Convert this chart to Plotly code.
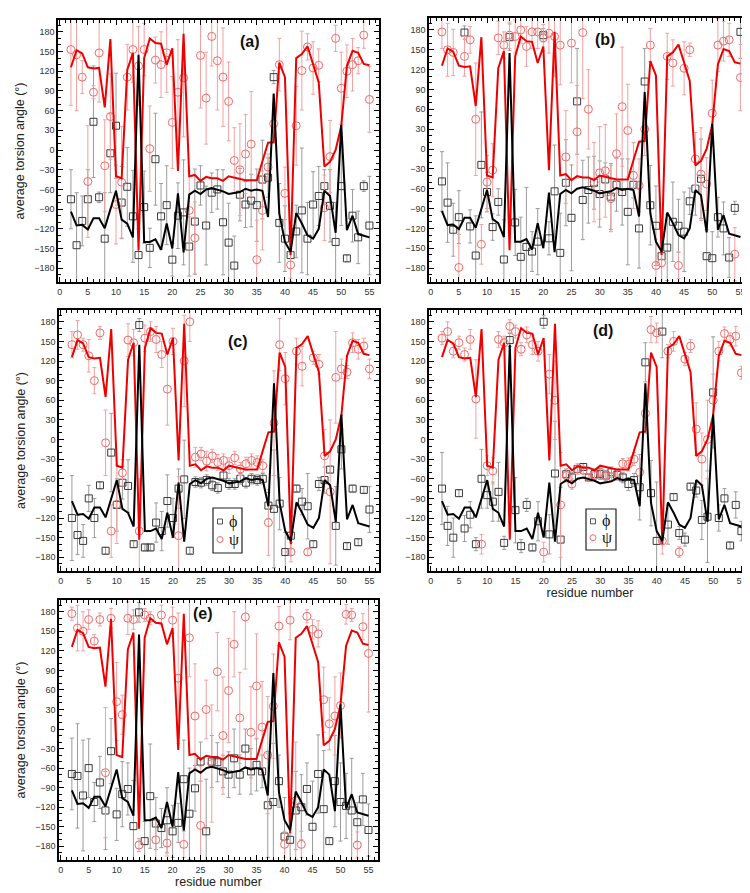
import plotly.graph_objects as go

residues = list(range(2, 56))

# reference (line) torsion angles
phi_ref = [-94, -115, -114, -121, -104, -104, -119, -90, -62, -106,
           -112, -133, 145, -140, -140, -136, -152, -112, -150, -66,
           -156, -68, -62, -67, -60, -58, -60, -63, -67, -65,
           -64, -59, -62, -60, -62, -102, 86, -97, -140, -155,
           -96, -112, -130, -135, -120, -62, -70, -126, 38, -122,
           -100, -128, -131, -133]
psi_ref = [126, 152, 147, 126, 124, 125, 65, 169, -40, -43,
           122, 148, -153, 140, 170, 163, 162, 130, 155, -32,
           177, -40, -38, -47, -41, -43, -43, -47, -40, -42,
           -43, -46, -46, -46, -17, 11, 12, 133, 111, -160,
           140, 146, 158, 130, 103, -25, -18, 0, 37, 128,
           151, 148, 131, 129]

# panel (a)
phi_a = [-75, -145, -108, -75, 43, -72, -135, -5, 37, -80,
         -56, -101, -160, -87, -149, -14, -101, -84, -167, -100,
         -95, -147, -109, -54, -115, -65, -60, -110, -141, -176,
         -68, -83, -77, -84, -45, -42, 111, -111, -135, -160,
         -124, -92, -135, -83, -70, -55, -85, -140, -55, -165,
         -100, -133, -55, -115]
phi_err_a = [45, 80, 38, 45, 85, 8, 70, 60, 80, 55,
             60, 70, 40, 55, 30, 70, 50, 60, 25, 50,
             80, 45, 80, 30, 60, 30, 30, 80, 60, 45,
             40, 35, 40, 55, 60, 30, 10, 60, 50, 40,
             40, 95, 55, 50, 45, 25, 55, 60, 60, 5,
             40, 40, 8, 75]
psi_a = [153, 145, 111, -48, 88, 148, -24, 51, -83, -49,
         111, 153, 128, 153, 2, 137, 130, 148, 42, 88,
         110, -92, -134, 144, 79, 173, 136, 111, 74, -16,
         -30, -6, 9, -167, -92, -26, 40, 130, -66, -175,
         37, 121, 157, 125, 129, -88, -10, 170, 94, 120,
         130, 136, 175, 77]
psi_err_a = [85, 85, 25, 85, 10, 75, 70, 65, 60, 85,
             50, 50, 60, 40, 65, 35, 50, 60, 70, 80,
             90, 60, 55, 80, 70, 45, 75, 75, 60, 50,
             70, 60, 80, 60, 60, 20, 30, 40, 40, 20,
             60, 60, 20, 40, 25, 50, 55, 20, 55, 40,
             40, 20, 20, 50]

# panel (b)
phi_b = [-49, -81, -122, -103, 176, -117, -161, -24, -65, -118,
         -80, -167, 169, -111, -163, -148, -155, -140, 172, -135,
         -64, -157, -51, -104, 72, -77, -62, -51, -68, -46,
         -72, -54, -65, -95, -54, -120, 102, -85, -116, -162,
         -149, -110, -116, -125, -79, -60, -45, -162, -165, -103,
         -120, -164, -89, 177]
phi_err_b = [45, 60, 40, 40, 10, 25, 60, 80, 30, 20,
             20, 60, 20, 50, 60, 90, 30, 50, 10, 25,
             70, 60, 65, 80, 80, 60, 50, 40, 50, 25,
             50, 40, 50, 80, 20, 60, 50, 60, 60, 40,
             50, 60, 40, 60, 20, 40, 60, 40, 40, 30,
             40, 30, 10, 40]
psi_b = [177, 150, 146, -179, 140, 165, 45, -144, -50, -32,
         168, 157, 172, 170, 180, 155, 177, 177, 168, 175,
         170, 157, -12, 160, 26, 176, 60, -50, -36, -33,
         -75, -7, 64, 28, -40, -55, 30, 157, -176, -172,
         140, 130, -176, 122, 150, -15, -38, -53, 54, 157,
         163, 165, -159, 108]
psi_err_b = [25, 40, 35, 50, 30, 20, 85, 30, 40, 40,
             25, 20, 20, 25, 20, 30, 25, 25, 20, 30,
             60, 60, 70, 60, 70, 100, 60, 60, 70, 70,
             50, 60, 90, 70, 50, 40, 40, 25, 40, 30,
             35, 35, 20, 40, 10, 40, 70, 40, 50, 40,
             30, 25, 40, 50]

# panel (c)
phi_c = [-120, -146, -155, -90, -120, -70, -170, -20, -100, -66,
         -71, -160, 175, -165, -165, -127, -140, -94, -120, -75,
         -61, -170, -65, -66, -62, -70, -74, -55, -68, -68,
         -60, -66, -60, -62, -60, -101, -106, -98, -172, -147,
         -75, -95, -102, -160, -68, -62, -46, -132, -15, -163,
         -75, -157, -77, -107]
phi_err_c = [65, 30, 25, 20, 30, 5, 5, 60, 40, 25,
             40, 5, 10, 5, 5, 30, 30, 40, 30, 30,
             60, 5, 8, 8, 8, 8, 8, 8, 8, 8,
             8, 8, 8, 8, 8, 20, 90, 40, 30, 30,
             5, 20, 50, 5, 10, 20, 5, 60, 30, 5,
             5, 5, 5, 35]
psi_c = [145, 160, 145, 128, 90, 163, -5, -140, -99, -51,
         152, 148, -140, 155, 165, 153, 130, 77, 150, -147,
         120, 180, -27, -22, -33, -25, -35, -32, -40, -28,
         -45, -37, -32, -35, -40, -127, 25, 145, 93, -172,
         135, 112, -172, 125, 115, -25, -80, 95, 108, 103,
         148, 138, 143, 108]
psi_err_c = [20, 22, 10, 25, 20, 10, 50, 40, 60, 20,
             25, 20, 80, 20, 15, 20, 20, 55, 20, 90,
             70, 30, 15, 10, 15, 10, 12, 10, 12, 10,
             10, 10, 10, 10, 10, 50, 80, 40, 40, 15,
             20, 30, 5, 10, 15, 40, 110, 70, 15, 10,
             15, 15, 12, 15]

# panel (d)
phi_d = [-75, -132, -150, -82, -136, -115, -160, -60, -85, -95,
         -80, -158, 152, -108, -163, -100, -165, -125, 180, -145,
         -52, -153, -53, -58, -45, -42, -58, -53, -53, -55,
         -50, -54, -58, -68, -62, -73, 118, -82, -155, 165,
         -130, -88, -143, -153, -72, -78, -123, -118, 72, -120,
         -90, -162, -100, -140]
phi_err_d = [55, 30, 30, 5, 20, 20, 10, 45, 20, 30,
             45, 10, 10, 50, 10, 10, 5, 30, 10, 30,
             80, 80, 8, 8, 5, 5, 5, 8, 8, 8,
             8, 8, 8, 10, 10, 50, 30, 50, 90, 40,
             30, 5, 10, 10, 5, 10, 30, 70, 85, 20,
             15, 5, 20, 15]
psi_d = [155, 165, 135, 148, 130, 153, 62, -160, -40, -48,
         153, 148, 173, 165, 138, 160, 145, 135, -172, 100,
         60, -100, -55, -68, -45, -47, -58, -55, -50, -55,
         -57, -52, -37, -38, -30, -50, 40, 168, 163, -155,
         135, 150, -172, 123, 143, 16, -30, 0, 60, 135,
         162, 153, 158, 102]
psi_err_d = [10, 15, 10, 10, 10, 15, 60, 15, 15, 20,
             12, 10, 10, 10, 10, 12, 15, 15, 15, 30,
             60, 80, 10, 8, 8, 6, 6, 6, 6, 6,
             6, 8, 8, 10, 10, 20, 30, 20, 15, 20,
             10, 15, 8, 10, 10, 40, 40, 60, 40, 15,
             10, 10, 15, 10]

# panel (e)
phi_e = [-69, -72, -102, -60, -112, -82, -125, -34, -131, -100,
         -92, -149, 179, -172, -103, -145, -152, -140, -157, -144,
         -77, -130, -91, -50, -157, -50, -51, -65, -70, -45,
         -70, -30, -65, -55, -65, -117, -112, -80, -165, -170,
         -125, -120, -92, -150, -69, -123, -172, -80, -112, -118,
         -125, -143, -108, -155]
phi_err_e = [55, 80, 85, 45, 30, 40, 60, 50, 40, 50,
             40, 70, 15, 30, 80, 40, 30, 50, 40, 30,
             60, 70, 35, 30, 80, 40, 30, 25, 35, 45,
             30, 30, 35, 40, 25, 80, 90, 40, 60, 40,
             60, 50, 40, 70, 60, 90, 5, 70, 60, 50,
             80, 30, 40, 40]
psi_e = [177, 155, 150, 168, 135, 168, -67, 170, 42, 22,
         170, 168, -178, 175, 170, -170, 175, -175, 167, 78,
         -177, 140, 20, -148, 30, -53, 88, -10, 59, 130,
         17, 172, -5, 66, 3, -40, 35, 158, -177, 167,
         -110, -177, 173, 153, 146, 45, 8, 20, 36, 176,
         175, -178, 157, 116]
psi_err_e = [10, 35, 30, 15, 10, 10, 100, 15, 60, 30,
             25, 15, 10, 10, 10, 30, 15, 20, 20, 100,
             20, 60, 80, 90, 45, 90, 60, 90, 80, 50,
             70, 80, 70, 80, 70, 90, 80, 30, 20, 30,
             90, 20, 10, 15, 20, 50, 40, 60, 50, 15,
             10, 20, 20, 90]

panels = [
    ("(a)", phi_a, phi_err_a, psi_a, psi_err_a),
    ("(b)", phi_b, phi_err_b, psi_b, psi_err_b),
    ("(c)", phi_c, phi_err_c, psi_c, psi_err_c),
    ("(d)", phi_d, phi_err_d, psi_d, psi_err_d),
    ("(e)", phi_e, phi_err_e, psi_e, psi_err_e),
]

y_ticks = list(range(-180, 181, 30))
x_ticks = list(range(0, 56, 5))

W, H = 750, 893
# plot frames in pixels: (left, right, top, bottom)
frames = [(50, 371, 12, 274), (421, 742, 10, 274),
          (51, 371, 302, 563), (421, 743, 302, 563),
          (51, 370, 592, 852)]
label_pos = [(242, 33), (597, 32), (230, 333), (595, 323), (195, 605)]

def px(x):
    return x / W

def py(y):
    return 1 - y / H

fig = go.Figure()
FONT = "Liberation Sans, Arial, sans-serif"

for i, (lab, ph, phe, ps, pse) in enumerate(panels):
    n = i + 1
    xa = "x" if n == 1 else f"x{n}"
    ya = "y" if n == 1 else f"y{n}"
    fig.add_trace(go.Scatter(
        x=residues, y=ph, mode="markers", xaxis=xa, yaxis=ya,
        marker=dict(symbol="square-open", size=7, color="#3a3a3a", line=dict(width=1)),
        error_y=dict(type="data", array=phe, color="#9c9c9c", thickness=1, width=2),
        showlegend=False))
    fig.add_trace(go.Scatter(
        x=residues, y=ps, mode="markers", xaxis=xa, yaxis=ya,
        marker=dict(symbol="circle-open", size=8, color="#f06a6a", line=dict(width=1)),
        error_y=dict(type="data", array=pse, color="#f4a0a0", thickness=1, width=2),
        showlegend=False))
    fig.add_trace(go.Scatter(
        x=residues, y=psi_ref, mode="lines", xaxis=xa, yaxis=ya,
        line=dict(color="#ee0000", width=2), showlegend=False))
    fig.add_trace(go.Scatter(
        x=residues, y=phi_ref, mode="lines", xaxis=xa, yaxis=ya,
        line=dict(color="#000000", width=2), showlegend=False))

    l, r, t, b = frames[i]
    common = dict(showline=True, linecolor="#000", linewidth=1.5, mirror="allticks",
                  ticks="inside", ticklen=5, tickwidth=1, tickcolor="#000",
                  showgrid=False, zeroline=False,
                  tickfont=dict(family=FONT, size=9, color="#333"))
    xkey = "xaxis" if n == 1 else f"xaxis{n}"
    ykey = "yaxis" if n == 1 else f"yaxis{n}"
    xtitle = "residue number" if lab in ("(d)", "(e)") else None
    ytitle = "average torsion angle (°)" if lab in ("(a)", "(c)", "(e)") else None
    fig.layout[xkey] = dict(domain=[px(l), px(r)], anchor=ya, range=[-0.3, 56.7],
                            tickvals=x_ticks,
                            minor=dict(dtick=1, tick0=0, ticks="inside", ticklen=3, tickcolor="#000", showgrid=False),
                            title=dict(text=xtitle, font=dict(family=FONT, size=12.5, color="#222"), standoff=1),
                            **common)
    fig.layout[ykey] = dict(domain=[py(b), py(t)], anchor=xa, range=[-201, 198],
                            tickvals=y_ticks,
                            minor=dict(dtick=10, tick0=0, ticks="inside", ticklen=3, tickcolor="#000", showgrid=False),
                            title=dict(text=ytitle, font=dict(family=FONT, size=12.5, color="#222"), standoff=7),
                            **common)
    lx, ly = label_pos[i]
    fig.add_annotation(x=px(lx), y=py(ly), xref="paper", yref="paper", text=f"<b>{lab}</b>",
                       showarrow=False, font=dict(family=FONT, size=16, color="#111"),
                       xanchor="center", yanchor="middle")

# legend boxes in panels (c) and (d)
for (bx0, by0, bx1, by1) in [(205, 500, 234, 545), (578, 501, 608, 542)]:
    fig.add_shape(type="rect", xref="paper", yref="paper", layer="above",
                  x0=px(bx0), x1=px(bx1), y0=py(by1), y1=py(by0),
                  line=dict(color="#222", width=1.2), fillcolor="rgba(255,255,255,0)")
    cy1 = by0 + (by1 - by0) * 0.3
    cy2 = by0 + (by1 - by0) * 0.7
    mx = bx0 + 7
    fig.add_shape(type="rect", xref="paper", yref="paper", layer="above",
                  x0=px(mx - 2.5), x1=px(mx + 2.5), y0=py(cy1 + 2.5), y1=py(cy1 - 2.5),
                  line=dict(color="#555", width=1))
    fig.add_shape(type="circle", xref="paper", yref="paper", layer="above",
                  x0=px(mx - 3), x1=px(mx + 3), y0=py(cy2 + 3), y1=py(cy2 - 3),
                  line=dict(color="#f06a6a", width=1))
    fig.add_annotation(x=px(mx + 7), y=py(cy1), xref="paper", yref="paper", text="ϕ",
                       xanchor="left", yanchor="middle",
                       showarrow=False, font=dict(family="Liberation Serif, serif", size=16, color="#111"))
    fig.add_annotation(x=px(mx + 7), y=py(cy2), xref="paper", yref="paper", text="ψ",
                       xanchor="left", yanchor="middle",
                       showarrow=False, font=dict(family="Liberation Serif, serif", size=16, color="#111"))

fig.update_layout(width=W, height=H, margin=dict(l=0, r=0, t=0, b=0),
                  paper_bgcolor="white", plot_bgcolor="white", showlegend=False)

fig.write_html("out.html")
